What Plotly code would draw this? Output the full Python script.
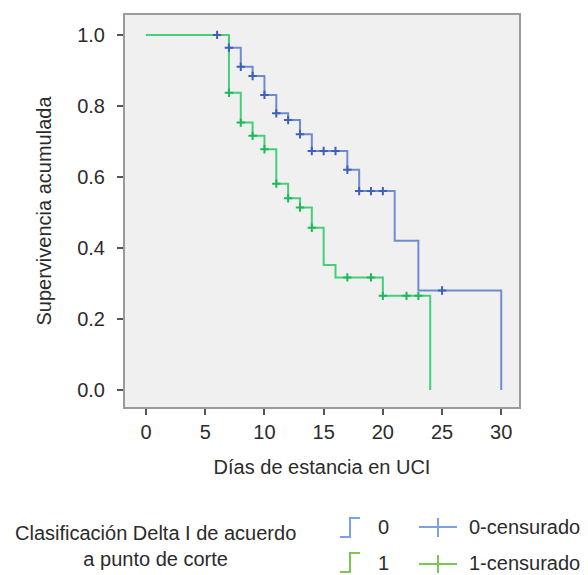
import plotly.graph_objects as go

# ---- data ----
g0_times = [0, 7, 8, 9, 10, 11, 12, 13, 14, 17, 18, 21, 23, 30]
g0_surv = [1.0, 0.964, 0.91, 0.884, 0.831, 0.779, 0.76, 0.72, 0.673, 0.62, 0.56, 0.42, 0.28, 0.0]
g0_cens_t = [6, 7, 8, 9, 10, 11, 12, 13, 14, 15, 16, 17, 18, 19, 20, 25]
g0_cens_s = [1.0, 0.964, 0.91, 0.884, 0.831, 0.779, 0.76, 0.72, 0.673, 0.673, 0.673, 0.62, 0.56, 0.56, 0.56, 0.28]

g1_times = [0, 7, 8, 9, 10, 11, 12, 13, 14, 15, 16, 20, 24]
g1_surv = [1.0, 0.837, 0.753, 0.716, 0.678, 0.581, 0.54, 0.514, 0.457, 0.352, 0.317, 0.265, 0.0]
g1_cens_t = [7, 8, 9, 10, 11, 12, 13, 14, 17, 19, 20, 22, 23]
g1_cens_s = [0.837, 0.753, 0.716, 0.678, 0.581, 0.54, 0.514, 0.457, 0.317, 0.317, 0.265, 0.265, 0.265]

x_ticks = [0, 5, 10, 15, 20, 25, 30]
y_ticks = [0.0, 0.2, 0.4, 0.6, 0.8, 1.0]

BLUE_L = "#6f8bd0"
BLUE_M = "#3f5fb8"
GREEN_L = "#45cf78"
GREEN_M = "#20b75a"
LEG_BLUE = "#7aa2e2"
LEG_GREEN = "#7cc652"
FONT = "Liberation Sans, Arial, sans-serif"
TXT = "#2b2b2b"

W, H = 588, 575
L, R, T, B = 125, 519, 15, 407

def px(x):
    return (x - L) / (R - L)

def py(y):
    return (B - y) / (B - T)

fig = go.Figure()
fig.add_trace(go.Scatter(x=g0_times, y=g0_surv, mode="lines", line=dict(color=BLUE_L, width=2, shape="hv"),
                         showlegend=False, hoverinfo="skip"))
fig.add_trace(go.Scatter(x=g1_times, y=g1_surv, mode="lines", line=dict(color=GREEN_L, width=2, shape="hv"),
                         showlegend=False, hoverinfo="skip"))
fig.add_trace(go.Scatter(x=g0_cens_t, y=g0_cens_s, mode="markers",
                         marker=dict(symbol="cross-thin", size=6, line=dict(color=BLUE_M, width=2)),
                         showlegend=False))
fig.add_trace(go.Scatter(x=g1_cens_t, y=g1_cens_s, mode="markers",
                         marker=dict(symbol="cross-thin", size=6, line=dict(color=GREEN_M, width=2)),
                         showlegend=False))

shapes = []
annots = []

def seg(pts, color):
    d = "M " + " L ".join(f"{px(a):.4f},{py(b):.4f}" for a, b in pts)
    shapes.append(dict(type="path", path=d, xref="paper", yref="paper",
                       line=dict(color=color, width=2)))

# legend glyphs
seg([(340, 537), (350, 537), (350, 518), (360, 518)], LEG_BLUE)
seg([(340, 572), (350, 572), (350, 553), (360, 553)], LEG_GREEN)
seg([(419, 527), (457, 527)], LEG_BLUE)
seg([(438, 518), (438, 537)], LEG_BLUE)
seg([(419, 564), (457, 564)], LEG_GREEN)
seg([(438, 555), (438, 573)], LEG_GREEN)

def text(t, x, y, xanchor="center", size=20):
    annots.append(dict(text=t, x=px(x), y=py(y), xref="paper", yref="paper", showarrow=False,
                       xanchor=xanchor, yanchor="middle", font=dict(family=FONT, size=size, color=TXT)))

text("Clasificación Delta I de acuerdo<br>a punto de corte", 155, 546, size=20)
text("0", 383, 527)
text("1", 383, 563)
text("0-censurado", 467, 527, xanchor="left")
text("1-censurado", 467, 563, xanchor="left")

fig.update_layout(
    width=W, height=H,
    margin=dict(l=L, r=W - R, t=T, b=H - B),
    paper_bgcolor="white", plot_bgcolor="#f0f0f0",
    font=dict(family=FONT, size=20, color=TXT),
    shapes=shapes, annotations=annots,
    xaxis=dict(range=[-1.78, 31.5], tickvals=x_ticks, ticks="outside", ticklen=6, tickwidth=1.5,
               tickcolor="#555", showgrid=False, zeroline=False, showline=True, mirror=True,
               linecolor="#9a9a9a", linewidth=2,
               title=dict(text="Días de estancia en UCI", standoff=18, font=dict(size=20))),
    yaxis=dict(range=[-0.048, 1.056], tickvals=y_ticks, tickformat=".1f", ticks="outside", ticklen=6,
               tickwidth=1.5, tickcolor="#555", showgrid=False, zeroline=False, showline=True,
               mirror=True, linecolor="#9a9a9a", linewidth=2, ticklabelstandoff=8,
               title=dict(text="Supervivencia acumulada", standoff=20, font=dict(size=20))),
)

fig.write_html("out.html", config={"displayModeBar": False},
               post_script="document.body.style.margin='0';document.body.style.overflow='hidden';")
